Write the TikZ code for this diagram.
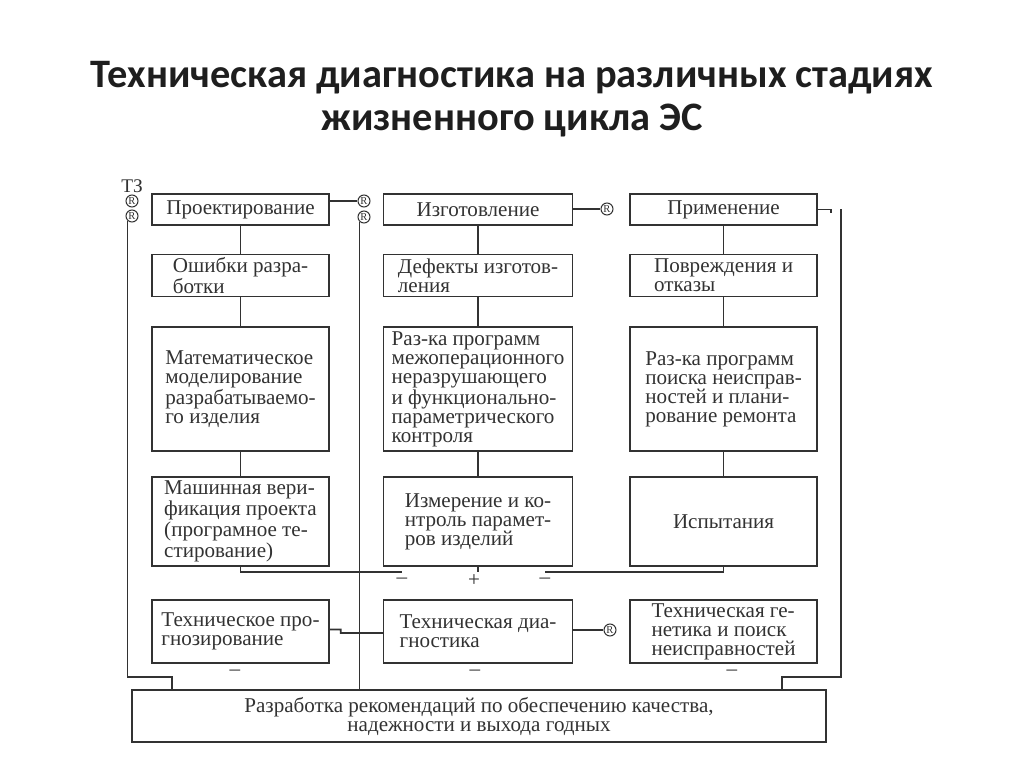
\documentclass[tikz,border=0pt]{standalone}
\usepackage{fontspec}
\setmainfont{Liberation Serif}
\newfontfamily\headfont{Carlito}
\usepackage{tikz}
\usetikzlibrary{positioning}
\usepackage{xcolor}
\definecolor{inkgray}{RGB}{50,50,50}
\definecolor{titlegray}{RGB}{30,30,30}
\tikzset{
  block/.style={rectangle, draw=inkgray, line width=0.9pt, align=left, text=inkgray,
                inner xsep=2pt, inner ysep=0.5pt, font=\fontsize{12}{10.8}\selectfont},
  colA/.style={minimum width=3.54cm},
  colB/.style={minimum width=3.78cm},
  colC/.style={minimum width=3.74cm},
  rowA/.style={minimum height=0.62cm},
  rowB/.style={minimum height=0.84cm},
  rowC/.style={minimum height=2.48cm},
  rowD/.style={minimum height=1.78cm},
  rowE/.style={minimum height=1.26cm},
  wire/.style={draw=inkgray, line width=0.9pt},
  regmark/.style={circle, draw=inkgray, line width=0.6pt, inner sep=0pt, minimum size=0.24cm,
                  text=inkgray, font=\fontsize{6}{6}\selectfont},
  signlabel/.style={inner sep=0pt, text=inkgray, font=\fontsize{12}{12}\selectfont},
  headline/.style={align=center, text=titlegray, font=\headfont\bfseries\fontsize{23}{24.5}\selectfont},
}

\begin{document}
\begin{tikzpicture}[x=0.02cm, y=-0.02cm]
\useasboundingbox (0,0) rectangle (1024,767);
\node[headline] (title) at (512,99) {Техническая диагностика на различных стадиях\\жизненного цикла ЭС};

% column 1
\node[block, colA, rowA] (proj) at (240.5,209.5) {Проектирование};
\node[block, colA, rowB] (osh) at (240.5,275.5) {Ошибки разра-\\ботки};
\node[block, colA, rowC] (mat) at (240.5,389) {Математическое\\моделирование\\разрабатываемо-\\го изделия};
\node[block, colA, rowD] (mash) at (240.5,521.5) {Машинная вери-\\фикация проекта\\(програмное те-\\стирование)};
\node[block, colA, rowE] (prog) at (240.5,631.5) {Техническое про-\\гнозирование};

% column 2
\node[block, colB, rowA, right=1.06cm of proj] (izg) {Изготовление};
\node[block, colB, rowB, right=1.06cm of osh] (def) {Дефекты изготов-\\ления};
\node[block, colB, rowC, right=1.06cm of mat] (raz) {Раз-ка программ\\межоперационного\\неразрушающего\\и функционально-\\параметрического\\контроля};
\node[block, colB, rowD, right=1.06cm of mash] (izm) {Измерение и ко-\\нтроль парамет-\\ров изделий};
\node[block, colB, rowE, right=1.06cm of prog] (diag) {Техническая диа-\\гностика};

% column 3
\node[block, colC, rowA, right=1.12cm of izg] (prim) {Применение};
\node[block, colC, rowB, right=1.12cm of def] (povr) {Повреждения и\\отказы};
\node[block, colC, rowC, right=1.12cm of raz] (rpoisk) {Раз-ка программ\\поиска неисправ-\\ностей и плани-\\рование ремонта};
\node[block, colC, rowD, right=1.12cm of izm] (isp) {Испытания};
\node[block, colC, rowE, right=1.12cm of diag] (gen) {Техническая ге-\\нетика и поиск\\неисправностей};

% bottom
\node[block, align=center, minimum width=13.88cm, minimum height=1.04cm] (rec) at (479,716)
  {Разработка рекомендаций по обеспечению качества,\\надежности и выхода годных};

% marks
\node[regmark] (regL1) at (132,201) {R};
\node[regmark] (regL2) at (132,216) {R};
\node[signlabel, above=1pt of regL1, font=\fontsize{11}{11}\selectfont] (tz) {ТЗ};
\node[regmark] (regM1) at (364,201) {R};
\node[regmark] (regM2) at (364,217) {R};
\node[regmark] (regC) at (607,209) {R};
\node[regmark] (regD) at (610,630) {R};

\coordinate (jL) at (172,677);
\coordinate (jR0) at (841,209);
\coordinate (jR) at (782,677);
\coordinate (jA) at (402,572);
\coordinate (jB) at (545,572);

% connectors
\draw[wire] (proj) -- (osh);
\draw[wire] (osh) -- (mat);
\draw[wire] (mat) -- (mash);
\draw[wire] (izg) -- (def);
\draw[wire] (def) -- (raz);
\draw[wire] (raz) -- (izm);
\draw[wire] (prim) -- (povr);
\draw[wire] (povr) -- (rpoisk);
\draw[wire] (rpoisk) -- (isp);
\draw[wire] (regM1.west -| proj.east) -- (regM1.west);
\draw[wire] (izg.east |- regC) -- (regC.west);
\draw[wire] (diag.east |- regD) -- (regD.west);
\draw[wire] (prim.east) -- ++(13,0) -- ++(0,3);
\draw[wire] ([yshift=0.04cm]prog.east) -- ++(11,0) -- ++(0,3.5) -- ([yshift=-0.03cm]diag.west);
\draw[wire] (mash.south) |- (jA);
\draw[wire] (isp.south) |- (jB);
\draw[wire] (izm.south) -- (izm.south |- jA);
\draw[wire] (regL2.south west) |- (jL) -- (jL |- rec.north);
\draw[wire] (regM2.south west) -- (regM2.south west |- rec.north);
\draw[wire] (jR0) |- (jR) -- (jR |- rec.north);

% signs
\node[signlabel] (mA) at (402,581) {–};
\node[signlabel] (pl) at (474,581) {+};
\node[signlabel] (mB) at (545,581) {–};
\node[signlabel] (mC) at (235,673) {–};
\node[signlabel] (mD) at (475,673) {–};
\node[signlabel] (mE) at (732,673) {–};
\end{tikzpicture}
\end{document}
